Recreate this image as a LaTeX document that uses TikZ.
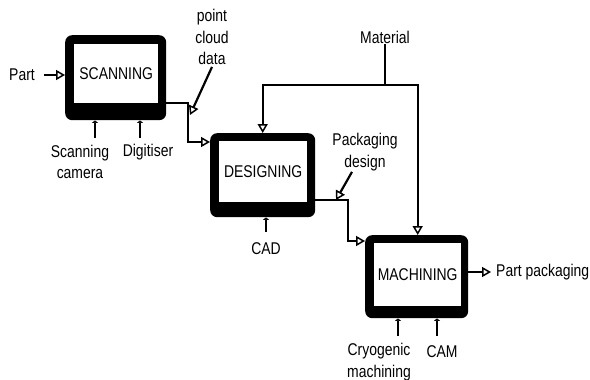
\documentclass[tikz,border=0pt]{standalone}
\usepackage{fontspec}
\setmainfont{Liberation Sans}[FakeStretch=0.82]
\usetikzlibrary{arrows.meta,calc}
\begin{document}
\begin{tikzpicture}[x=1pt,y=-1pt,
  font=\fontsize{17}{21.5}\selectfont,
  outerbox/.style={fill=black, rounded corners=7pt, inner sep=0pt, anchor=north west},
  innerbox/.style={fill=white, inner sep=0pt, anchor=north west, align=center},
  lbl/.style={inner sep=1pt, align=center},
  flow/.style={line width=2.2pt, -{Triangle[open, length=9pt, width=10pt, line width=1.5pt]}},
  plain/.style={line width=2.2pt},
  mech/.style={line width=2.2pt, -{Triangle[width=6pt, length=2.5pt]}}]
\useasboundingbox (0,0) rectangle (590,380);
\fill[white] (0,0) rectangle (590,380);

% boxes
\node[outerbox, minimum width=101pt, minimum height=85pt] (scan) at (65,35) {};
\node[innerbox, minimum width=84pt, minimum height=59pt] (scanin) at (74,44) {SCANNING};
\node[outerbox, minimum width=105pt, minimum height=84pt] (design) at (210,133) {};
\node[innerbox, minimum width=88pt, minimum height=61pt] (designin) at (219,141) {DESIGNING};
\node[outerbox, minimum width=103pt, minimum height=83pt] (mach) at (365,235) {};
\node[innerbox, minimum width=87pt, minimum height=63pt] (machin) at (374,243) {MACHINING};

% labels
\node[lbl] (part) at (22,75) {Part};
\node[lbl] (pcd) at (212,37) {point\\cloud\\data};
\node[lbl] (mat) at (385,37) {Material};
\node[lbl] (pd) at (365,152) {Packaging\\design};
\node[lbl] (scam) at (80,162) {Scanning\\camera};
\node[lbl] (digi) at (148,152) {Digitiser};
\node[lbl] (cad) at (266,249) {CAD};
\node[lbl] (cryo) at (379,362) {Cryogenic\\machining};
\node[lbl] (cam) at (442,352) {CAM};
\node[lbl, anchor=west] (pp) at (495,272) {Part packaging};

% coordinates
\coordinate (j1) at (188,103);
\coordinate (j1b) at (188,142);
\coordinate (pcdtip) at (190,115);
\coordinate (mj) at (385,85);
\coordinate (j2) at (348,200);
\coordinate (j3) at (348,241);
\coordinate (pdtip) at (336,200);
\coordinate (m1) at (95,138);
\coordinate (m2) at (140,138);
\coordinate (m3) at (266,232);
\coordinate (m4) at (398,336);
\coordinate (m5) at (437,336);
\coordinate (ppend) at (491,272);

% connectors
\draw[flow] ([xshift=8pt]part.east) -- (scan.west |- part.east);
\draw[flow] (scan.east |- j1) -- (j1) -- (j1b) -- (design.west |- j1b);
\draw[flow] ([yshift=-1pt]pcd.south) -- (pcdtip);
\draw[plain] (mat.south) -- (mj);
\draw[flow] (mj) -| (design.north);
\draw[flow] (mj) -| ([xshift=1pt]mach.north);
\draw[flow] (design.east |- j2) -- (j2) -- (j3) -- (mach.west |- j3);
\draw[flow] ([xshift=-13pt]pd.south) -- (pdtip);
\draw[flow] (mach.east |- ppend) -- (ppend);
\draw[mech] (m1) -- (m1 |- scan.south);
\draw[mech] (m2) -- (m2 |- scan.south);
\draw[mech] (m3) -- (m3 |- design.south);
\draw[mech] (m4) -- (m4 |- mach.south);
\draw[mech] (m5) -- (m5 |- mach.south);
\end{tikzpicture}
\end{document}
